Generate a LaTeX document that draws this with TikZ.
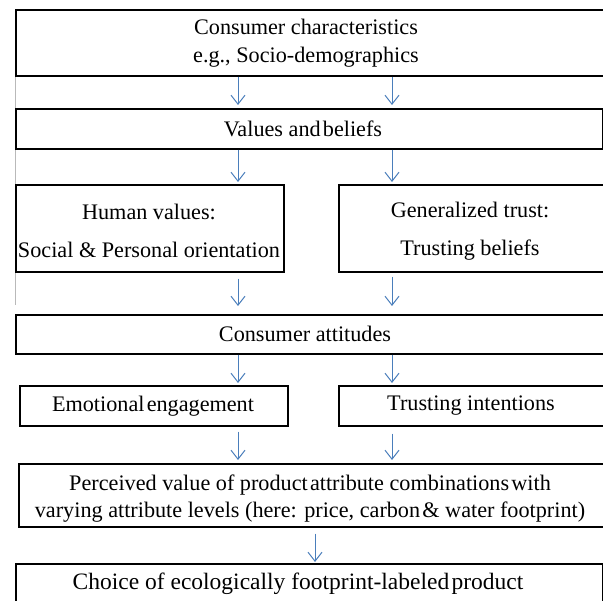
\documentclass[tikz,border=0pt]{standalone}
\usepackage{fontspec}
\setmainfont{Liberation Serif}
\newfontfamily\timesfont{Liberation Serif}
\usetikzlibrary{arrows.meta}
\definecolor{arrblue}{RGB}{74,126,187}
\newcommand{\tsp}{\hspace{0.1em}}
\begin{document}
\begin{tikzpicture}[x=1pt,y=-1pt,
  box/.style={draw=black,line width=1.6pt,rectangle,inner sep=0pt,anchor=north west},
  txt/.style={inner sep=0pt,align=center,font=\timesfont\fontsize{22.2}{28}\selectfont},
  arr/.style={draw=arrblue,line width=1pt,-{Straight Barb[length=9pt,width=14pt]}}]
\useasboundingbox (0,0) rectangle (603,601);
\clip (0,0) rectangle (603,601);
\fill[white] (0,0) rectangle (603,601);
% faint frame line
\draw[gray!55,line width=0.8pt] (15,75) -- (15,305);
% boxes
\node[box,minimum width=600pt,minimum height=66pt] (top) at (15,9) {};
\node[box,minimum width=587pt,minimum height=40pt] (values) at (15,108) {};
\node[box,minimum width=268pt,minimum height=87pt] (human) at (15,184) {};
\node[box,minimum width=280pt,minimum height=87pt] (trust) at (338,184) {};
\node[box,minimum width=600pt,minimum height=39pt] (att) at (15,314) {};
\node[box,minimum width=268pt,minimum height=40pt] (emo) at (19,385) {};
\node[box,minimum width=280pt,minimum height=40pt] (tint) at (338,385) {};
\node[box,minimum width=600pt,minimum height=63pt] (perc) at (18,463) {};
\node[box,minimum width=587pt,minimum height=60pt] (choice) at (15,563) {};
% texts
\node[txt] (ttop) at (306,43) {Consumer characteristics\\e.g., Socio-demographics};
\node[txt] (tvalues) at (303,129) {Values and\tsp beliefs};
\node[txt,font=\timesfont\fontsize{22.2}{26}\selectfont] (thuman) at (149,231) {Human values:\\[12pt]Social \& Personal orientation};
\node[txt,font=\timesfont\fontsize{22.2}{26}\selectfont] (ttrust) at (470,231) {Generalized trust:\\[12pt]Trusting beliefs};
\node[txt] (tatt) at (305,334) {Consumer attitudes};
\node[txt] (temo) at (153,406) {Emotional\tsp engagement};
\node[txt] (ttint) at (471,406) {Trusting intentions};
\node[txt,font=\timesfont\fontsize{22.2}{27}\selectfont] (tperc) at (310,499) {Perceived value of product\tsp attribute combinations\tsp with\\varying attribute levels (here: price, carbon\tsp\& water footprint)};
\node[txt,font=\timesfont\fontsize{23.5}{28}\selectfont] (tchoice) at (298,584) {Choice of ecologically footprint-labeled\tsp product};
% arrow columns
\coordinate (L) at (238,0);
\coordinate (R) at (392,0);
\coordinate (M) at (315,0);
\draw[arr] (top.south -| L) -- ([yshift=3pt]values.north -| L);
\draw[arr] (top.south -| R) -- ([yshift=3pt]values.north -| R);
\draw[arr] (values.south -| L) -- ([yshift=2pt]human.north -| L);
\draw[arr] (values.south -| R) -- ([yshift=2pt]trust.north -| R);
\draw[arr] ([yshift=-6pt]human.south -| L) -- ([yshift=8pt]att.north -| L);
\draw[arr] ([yshift=-4pt]trust.south -| R) -- ([yshift=8pt]att.north -| R);
\draw[arr] (att.south -| L) -- ([yshift=2pt]emo.north -| L);
\draw[arr] (att.south -| R) -- ([yshift=2pt]tint.north -| R);
\draw[arr] ([yshift=-5pt]emo.south -| L) -- ([yshift=3pt]perc.north -| L);
\draw[arr] ([yshift=-7pt]tint.south -| R) -- ([yshift=3pt]perc.north -| R);
\draw[arr] ([yshift=-6pt]perc.south -| M) -- ([yshift=1pt]choice.north -| M);
\end{tikzpicture}
\end{document}
